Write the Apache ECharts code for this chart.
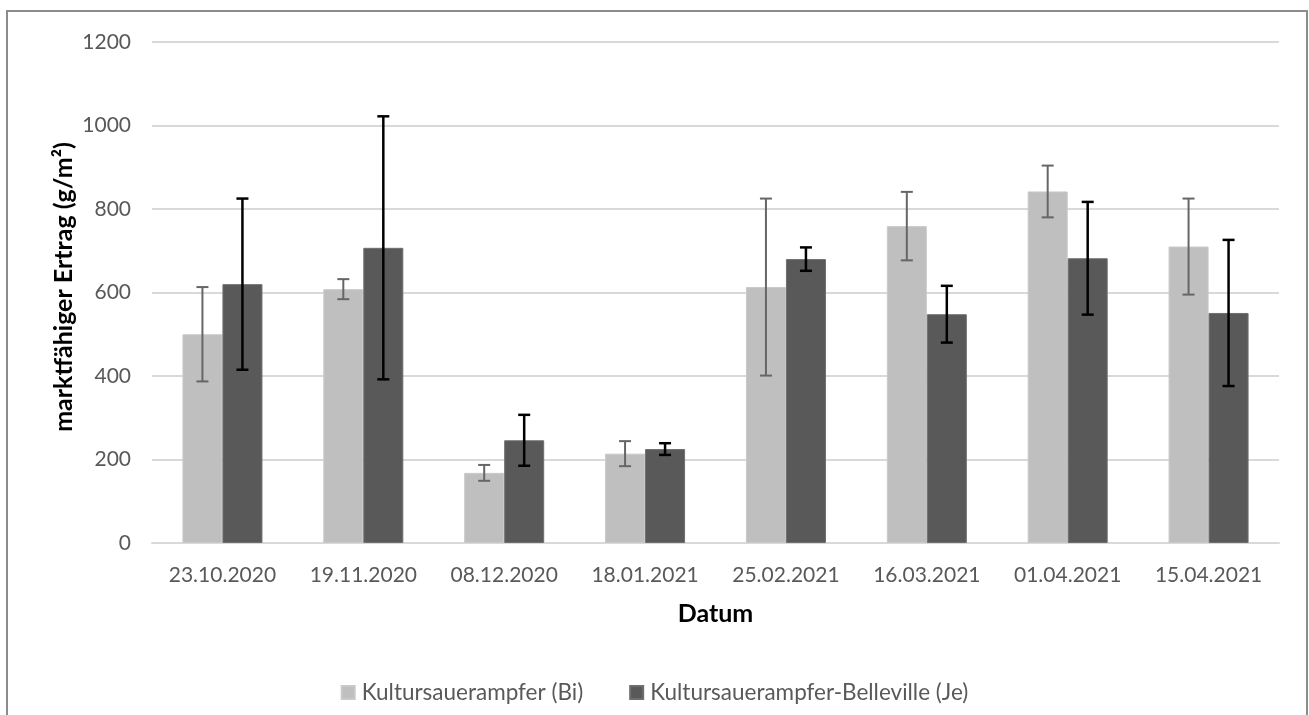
<!DOCTYPE html>
<html>
<head>
<meta charset="utf-8">
<script src="https://cdn.jsdelivr.net/npm/echarts@6/dist/echarts.min.js"></script>
<style>
html,body{margin:0;padding:0;background:#fff;}
#chart{width:1309px;height:715px;}
</style>
</head>
<body>
<div id="chart"></div>
<script>
const categories = ['23.10.2020','19.11.2020','08.12.2020','18.01.2021','25.02.2021','16.03.2021','01.04.2021','15.04.2021'];
const biValues = [500, 608, 168, 214, 613, 759, 842, 710];
const biErrors = [113, 24, 19, 30, 212, 82, 62, 115];
const jeValues = [620, 707, 246, 225, 680, 548, 682, 551];
const jeErrors = [205, 315, 61, 14, 28, 68, 135, 175];
const seriesNames = ['Kultursauerampfer (Bi)', 'Kultursauerampfer-Belleville (Je)'];
const yTicks = [0, 200, 400, 600, 800, 1000, 1200];
const yAxisTitle = 'marktfähiger Ertrag (g/m²)';
const xAxisTitle = 'Datum';

const FONT = 'Lato';
const BAR_W = 40;

function errData(vals, errs) {
  return vals.map((v, i) => [i, v - errs[i], v + errs[i]]);
}
function errRender(offsetSign, color, width) {
  return function (params, api) {
    const i = api.value(0);
    const lo = api.coord([i, api.value(1)]);
    const hi = api.coord([i, api.value(2)]);
    const x = lo[0] + offsetSign * BAR_W / 2;
    const cap = 6;
    const style = { stroke: color, lineWidth: width };
    return {
      type: 'group',
      children: [
        { type: 'line', shape: { x1: x, y1: hi[1], x2: x, y2: lo[1] }, style: style },
        { type: 'line', shape: { x1: x - cap, y1: hi[1], x2: x + cap, y2: hi[1] }, style: style },
        { type: 'line', shape: { x1: x - cap, y1: lo[1], x2: x + cap, y2: lo[1] }, style: style }
      ]
    };
  };
}

const chart = echarts.init(document.getElementById('chart'), null, { renderer: 'canvas' });
chart.setOption({
  animation: false,
  backgroundColor: '#ffffff',
  textStyle: { fontFamily: FONT },
  graphic: [
    { type: 'rect', shape: { x: 7, y: 11, width: 1300, height: 720 },
      style: { fill: 'none', stroke: '#8c8c8c', lineWidth: 2 }, silent: true, z: -1 },
    { type: 'text', x: 64, y: 287, rotation: Math.PI / 2, silent: true,
      style: { text: yAxisTitle, fill: '#000', font: 'bold 25px Lato', align: 'center', verticalAlign: 'middle' } }
  ],
  grid: { left: 152, right: 30, top: 42, bottom: 172, containLabel: false },
  legend: {
    data: seriesNames,
    left: 'center',
    top: 676,
    itemWidth: 13,
    itemHeight: 13,
    itemGap: 46,
    icon: 'rect',
    textStyle: { fontFamily: FONT, fontSize: 22.5, color: '#595959', padding: [0, 0, 0, 2] }
  },
  xAxis: {
    type: 'category',
    data: categories,
    name: xAxisTitle,
    nameLocation: 'middle',
    nameGap: 58,
    nameTextStyle: { fontFamily: FONT, fontSize: 25, fontWeight: 'bold', color: '#000' },
    axisLine: { show: true, lineStyle: { color: '#d9d9d9', width: 2 } },
    axisTick: { show: false },
    axisLabel: { fontFamily: FONT, fontSize: 21, color: '#595959', margin: 22, interval: 0 }
  },
  yAxis: {
    type: 'value',
    min: 0,
    max: 1200,
    interval: 200,
    axisLine: { show: false },
    axisTick: { show: false },
    splitLine: { lineStyle: { color: '#d9d9d9', width: 2 } },
    axisLabel: {
      fontFamily: FONT, fontSize: 21, color: '#595959', margin: 21,
      formatter: function (v) { return yTicks.indexOf(v) >= 0 ? String(v) : ''; }
    }
  },
  series: [
    {
      name: seriesNames[0], type: 'bar', data: biValues, barWidth: BAR_W, barGap: '0%',
      itemStyle: { color: '#bfbfbf', borderColor: '#c9c9c9', borderWidth: 1 }, z: 2
    },
    {
      name: seriesNames[1], type: 'bar', data: jeValues, barWidth: BAR_W, barGap: '0%',
      itemStyle: { color: '#595959', borderColor: '#6e6e6e', borderWidth: 1 }, z: 2
    },
    {
      name: seriesNames[0] + ' err', type: 'custom', data: errData(biValues, biErrors),
      renderItem: errRender(-1, '#666666', 2), encode: { x: 0, y: [1, 2] }, z: 5, silent: true
    },
    {
      name: seriesNames[1] + ' err', type: 'custom', data: errData(jeValues, jeErrors),
      renderItem: errRender(1, '#000000', 2.5), encode: { x: 0, y: [1, 2] }, z: 5, silent: true
    }
  ]
});
</script>
</body>
</html>
